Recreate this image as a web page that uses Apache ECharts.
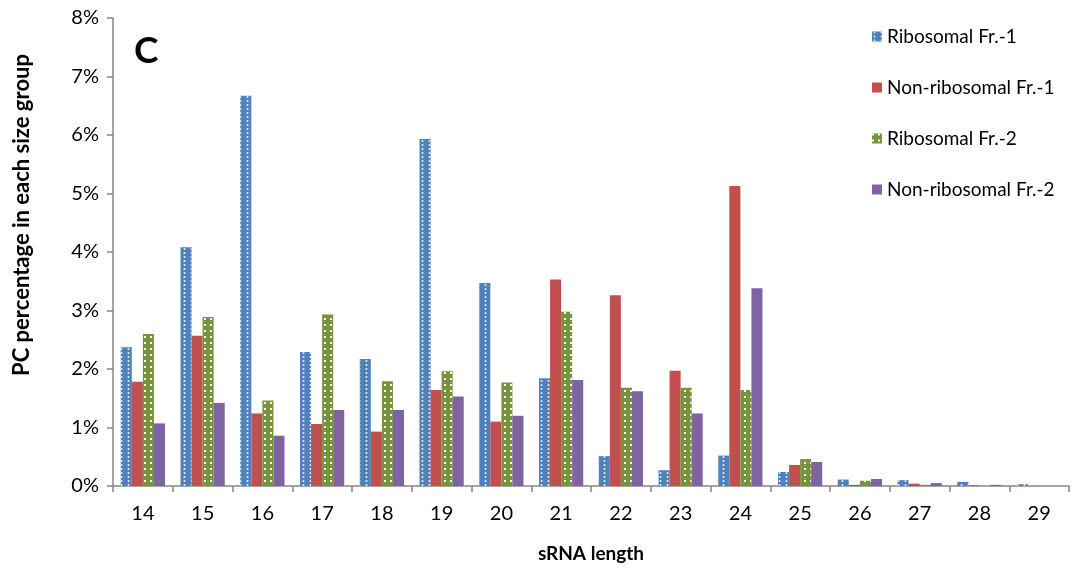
<!DOCTYPE html>
<html>
<head>
<meta charset="utf-8">
<script src="https://cdn.jsdelivr.net/npm/echarts@6/dist/echarts.min.js"></script>
<style>html,body{margin:0;padding:0;background:#fff}#c{width:1073px;height:573px}</style>
</head>
<body>
<div id="c"></div>
<script>
const categories = ['14','15','16','17','18','19','20','21','22','23','24','25','26','27','28','29'];
const ribosomal1 = [2.37, 4.08, 6.67, 2.29, 2.17, 5.93, 3.47, 1.84, 0.51, 0.27, 0.52, 0.24, 0.11, 0.10, 0.07, 0.03];
const nonRibosomal1 = [1.78, 2.57, 1.24, 1.06, 0.93, 1.64, 1.10, 3.53, 3.26, 1.97, 5.13, 0.36, 0.02, 0.04, 0.01, 0.00];
const ribosomal2 = [2.60, 2.89, 1.46, 2.93, 1.79, 1.96, 1.77, 2.98, 1.68, 1.68, 1.64, 0.46, 0.09, 0.02, 0.00, 0.00];
const nonRibosomal2 = [1.07, 1.42, 0.86, 1.30, 1.30, 1.53, 1.20, 1.81, 1.62, 1.24, 3.38, 0.41, 0.12, 0.05, 0.02, 0.00];
const seriesNames = ['Ribosomal Fr.-1', 'Non-ribosomal Fr.-1', 'Ribosomal Fr.-2', 'Non-ribosomal Fr.-2'];
const yTicks = [0,1,2,3,4,5,6,7,8];
const yAxisTitle = 'PC percentage in each size group';
const xAxisTitle = 'sRNA length';
const panelLabel = 'C';

const FONT = 'Lato, "Open Sans", sans-serif';
const chart = echarts.init(document.getElementById('c'), null, {renderer: 'canvas'});
const axisColor = '#868686';

const decal1 = {symbol: 'circle', color: 'rgba(255,255,255,0.9)', dashArrayX: [5, 2], dashArrayY: [1.6, 1.8], symbolSize: 1, rotation: 0};
const decal2 = {symbol: 'rect', color: 'rgba(255,255,255,0.95)', dashArrayX: [2, 4], dashArrayY: [2, 4], symbolSize: 1, rotation: 0};

chart.setOption({
  animation: false,
  backgroundColor: '#fff',
  grid: {left: 113, right: 4, top: 18, bottom: 87, containLabel: false, outerBoundsMode: 'none'},
  legend: {
    orient: 'vertical', left: 867, top: 22, itemGap: 32,
    itemWidth: 10, itemHeight: 10, icon: 'rect',
    textStyle: {fontFamily: FONT, fontSize: 19, color: '#000'},
    data: seriesNames
  },
  graphic: [
    {type: 'text', left: 134, top: 33, style: {text: panelLabel, fontFamily: FONT, fontWeight: 'bold', fontSize: 37, fill: '#000'}},
    {type: 'text', x: 22, y: 215, rotation: Math.PI / 2,
     style: {text: yAxisTitle, fontFamily: FONT, fontWeight: 'bold', fontSize: 22, fill: '#000', align: 'center', verticalAlign: 'middle'}}
  ],
  xAxis: {
    type: 'category', data: categories,
    name: xAxisTitle, nameLocation: 'middle', nameGap: 58,
    nameTextStyle: {fontFamily: FONT, fontWeight: 'bold', fontSize: 19, color: '#000'},
    axisLine: {lineStyle: {color: axisColor, width: 1.5}},
    axisTick: {show: true, alignWithLabel: false, length: 6, lineStyle: {color: axisColor, width: 1.5}},
    axisLabel: {fontFamily: FONT, fontSize: 20, color: '#000', margin: 18}
  },
  yAxis: {
    type: 'value', min: 0, max: 8, interval: 1,
    axisLine: {show: true, lineStyle: {color: axisColor, width: 1.5}},
    axisTick: {show: true, length: 6, lineStyle: {color: axisColor, width: 1.5}},
    splitLine: {show: false},
    axisLabel: {fontFamily: FONT, fontSize: 20, color: '#000', margin: 14,
      formatter: v => yTicks.includes(v) ? v + '%' : ''}
  },
  series: [
    {name: seriesNames[0], type: 'bar', data: ribosomal1, barGap: '0%', barCategoryGap: '26%',
     itemStyle: {color: '#4F81BD', decal: decal1}},
    {name: seriesNames[1], type: 'bar', data: nonRibosomal1, barGap: '0%', barCategoryGap: '26%',
     itemStyle: {color: '#C0504D'}},
    {name: seriesNames[2], type: 'bar', data: ribosomal2, barGap: '0%', barCategoryGap: '26%',
     itemStyle: {color: '#77933C', decal: decal2}},
    {name: seriesNames[3], type: 'bar', data: nonRibosomal2, barGap: '0%', barCategoryGap: '26%',
     itemStyle: {color: '#8064A2'}}
  ]
});
</script>
</body>
</html>
